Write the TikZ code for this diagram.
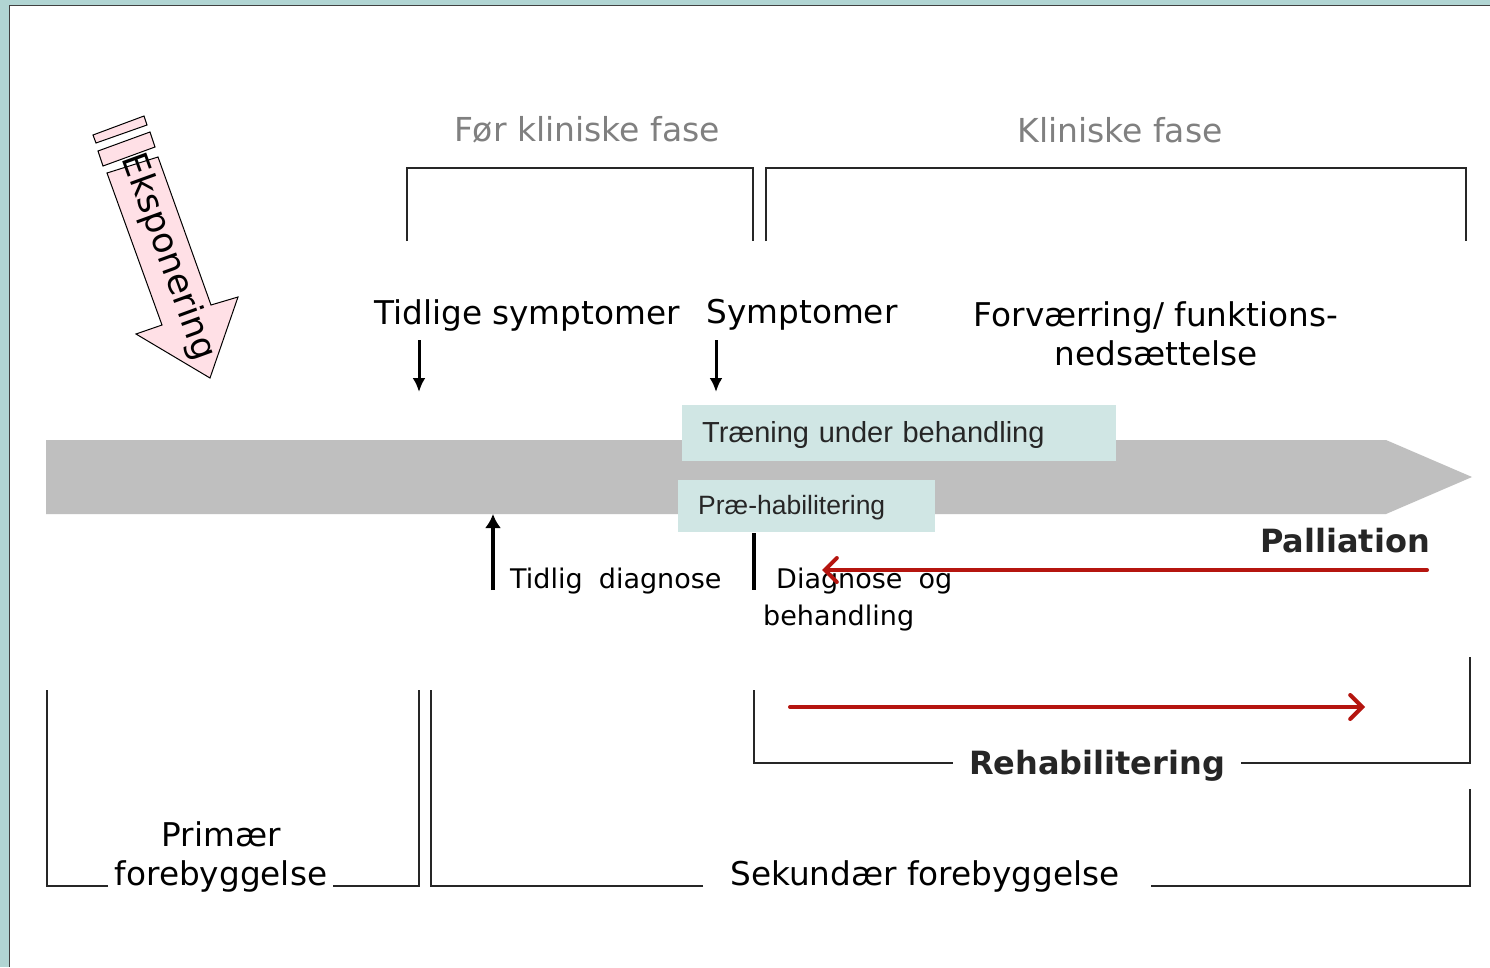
\documentclass[tikz,border=0pt]{standalone}
\usepackage{fontspec}
\setmainfont{DejaVu Sans}
\newfontfamily\arialfont{Liberation Sans}
\usepackage{tikz}
\usetikzlibrary{arrows.meta}
\usepackage{xcolor}
\definecolor{rammeteal}{HTML}{B1D5D3}
\definecolor{boksteal}{HTML}{D0E6E4}
\definecolor{tidsgraa}{HTML}{BFBFBF}
\definecolor{pilrod}{HTML}{B5150F}
\definecolor{eksprosa}{HTML}{FFE0E6}

\begin{document}
\begin{tikzpicture}[x=1pt,y=-1pt,
  lbl/.style={font=\fontsize{32.7}{39}\selectfont,inner sep=0pt},
  lille/.style={font=\fontsize{27}{37}\selectfont,inner sep=0pt},
  fed/.style={font=\fontsize{32}{38}\selectfont\bfseries,text=black!85},
  fase/.style={font=\fontsize{33}{38}\selectfont,text=black!50,inner sep=0pt},
  boks/.style={fill=boksteal,anchor=north west,inner xsep=20pt,inner ysep=0pt,align=left,text=black!85},
  ramme/.style={draw=black!85,line width=1.5pt},
  rodpil/.style={draw=pilrod,line width=4pt,line cap=round,-{Straight Barb[length=12pt,width=24pt,line cap=round]}}]
\useasboundingbox (0,0) rectangle (1490,967);
\fill[rammeteal] (0,0) rectangle (1490,967);
\fill[white] (9,5) rectangle (1490,967);
\draw[black!75,line width=1pt] (9,967) -- (9,5) -- (1490,5);

% eksponering
\filldraw[fill=eksprosa,draw=black,line width=1pt] (93,135)--(144,116)--(147,125)--(96,143)--cycle;
\filldraw[fill=eksprosa,draw=black,line width=1pt] (98,151)--(150,132)--(155,147)--(103,166)--cycle;
\filldraw[fill=eksprosa,draw=black,line width=1pt] (107,173)--(158,157)--(211,305)--(238,297)--(210,378)--(136,334)--(162,325)--cycle;
\node[rotate=-70,font=\fontsize{35}{40}\selectfont,inner sep=0pt] (eksp) at (168,257) {Eksponering};

% faser
\node[fase] (forklin) at (587,130) {Før kliniske fase};
\node[fase] (klin) at (1120,130) {Kliniske fase};
\draw[ramme] (407,241) |- (753,168) -- (753,241);
\draw[ramme] (766,241) |- (1466,168) -- (1466,241);

\node[lbl] (tidsym) at (527,315) {Tidlige symptomer};
\node[lbl] (sym) at (802,315) {Symptomer};
\node[lbl,align=center] (forv) at (1156,334) {Forværring/ funktions-\\nedsættelse};
\coordinate (tidsymfra) at (419,340);
\coordinate (tidsymtil) at (419,392);
\coordinate (symfra) at (716,340);
\coordinate (symtil) at (716,392);
\draw[line width=3pt,-{Latex[length=14pt,width=13pt]}] (tidsymfra) -- (tidsymtil);
\draw[line width=3pt,-{Latex[length=14pt,width=13pt]}] (symfra) -- (symtil);

% tidslinje
\fill[tidsgraa] (46,440) -- (1386,440) -- (1472,477) -- (1386,514) -- (46,514) -- cycle;
\node[boks,minimum height=56pt,text width=394pt,font=\arialfont\fontsize{29}{34}\selectfont,text depth=2pt] (traen) at (682,405) {Træning under behandling};
\node[boks,minimum height=52pt,text width=217pt,font=\arialfont\fontsize{26.5}{32}\selectfont,text depth=2pt] (prae) at (678,480) {Præ-habilitering};

\coordinate (tiddiagfra) at (493,590);
\coordinate (tiddiagtil) at (493,514);
\draw[line width=4.5pt,-{Latex[length=14pt,width=16pt]}] (tiddiagfra) -- (tiddiagtil);
\node[lille,anchor=base west] (tiddiag) at (510,588) {Tidlig\hspace{0.6em}diagnose};
\draw[line width=3.5pt] (754,533) -- (754,590);
\node[lille,anchor=base west,align=left] (diagbeh) at (763,625) {\hspace{13pt}Diagnose\hspace{0.6em}og\\behandling};

% palliation og rehabilitering
\node[fed,anchor=east,inner sep=0pt] (pall) at (1430,541) {Palliation};
\coordinate (pallfra) at (1427,570);
\coordinate (palltil) at (822,570);
\draw[rodpil] (pallfra) -- (palltil);
\coordinate (rehabfra) at (790,707);
\coordinate (rehabtil) at (1365,707);
\draw[rodpil] (rehabfra) -- (rehabtil);
\node[fed,inner xsep=16pt,inner ysep=0pt] (rehab) at (1097,766) {Rehabilitering};
\draw[ramme] (rehab.west |- 0,763) -| (754,690);
\draw[ramme] (rehab.east |- 0,763) -| (1470,657);

% forebyggelse
\node[lbl,align=center,anchor=base] (prim) at (221,885) {Primær\\forebyggelse};
\draw[ramme] (108,886) -| (47,690);
\draw[ramme] (333,886) -| (419,690);
\node[lbl,anchor=base] (sek) at (925,885) {Sekundær forebyggelse};
\draw[ramme] (703,886) -| (431,690);
\draw[ramme] (1151,886) -| (1470,789);
\end{tikzpicture}
\end{document}
